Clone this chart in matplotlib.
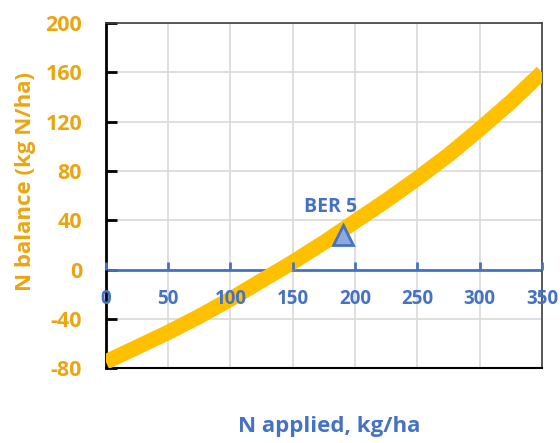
import matplotlib
matplotlib.use("Agg")
import matplotlib.pyplot as plt
import numpy as np

# data
n_applied = [0, 25, 50, 75, 100, 125, 150, 175, 200, 225, 250, 275, 300, 325, 350]
n_balance = [-75, -63, -51, -38, -24, -9, 6, 22, 39, 56, 74, 93, 114, 136, 160]
ber_x = [190]
ber_y = [28]
ber_label = "BER 5"
xticks = [0, 50, 100, 150, 200, 250, 300, 350]
yticks = [-80, -40, 0, 40, 80, 120, 160, 200]

ORANGE_TXT = "#EBA511"
ORANGE = "#FFC000"
BLUE = "#4472C4"
BLUE_FILL = "#8EA9DB"

plt.rcParams['font.family'] = ['Open Sans', 'DejaVu Sans']
plt.rcParams['axes.unicode_minus'] = False

fig = plt.figure(figsize=(5.6, 4.43), dpi=100)
ax = fig.add_axes([0.189, 0.169, 0.779, 0.779])

ax.set_xlim(0, 350)
ax.set_ylim(-80, 200)
ax.set_xticks(xticks)
ax.set_yticks(yticks)
ax.grid(True, color="#D9D9D9", linewidth=1.2, zorder=0)
ax.set_axisbelow(True)

ax.plot(n_applied, n_balance, color=ORANGE, linewidth=11, solid_capstyle='butt', zorder=3)
ax.axhline(0, color=BLUE, linewidth=2, zorder=2)
ax.plot(ber_x, ber_y, marker='^', markersize=15, markerfacecolor=BLUE_FILL,
        markeredgecolor=BLUE, markeredgewidth=2, linestyle='none', zorder=4)
ax.annotate(ber_label, (ber_x[0], ber_y[0]), xytext=(-9, 13), textcoords='offset points',
            ha='center', va='bottom', color=BLUE, fontsize=14, fontweight='bold')

# spines
ax.spines['left'].set_linewidth(2)
ax.spines['left'].set_color('black')
ax.spines['bottom'].set_linewidth(1.5)
ax.spines['bottom'].set_color('black')
for s in ['top', 'right']:
    ax.spines[s].set_linewidth(1.2)
    ax.spines[s].set_color('#404040')

ax.tick_params(axis='y', direction='in', length=8, width=2, color='black',
               labelsize=15.5, labelcolor=ORANGE_TXT, pad=17)
for lab in ax.get_yticklabels():
    lab.set_fontweight('bold')
ax.tick_params(axis='x', bottom=False, labelbottom=False)

# x axis drawn at y = 0
sec = ax.secondary_xaxis(80 / 280)
sec.set_zorder(6)
sec.set_xticks(xticks)
sec.spines['bottom'].set_visible(False)
sec.tick_params(axis='x', direction='in', length=6, width=2, color=BLUE,
                labelsize=13.5, labelcolor=BLUE, pad=14)
for lab in sec.get_xticklabels():
    lab.set_fontweight('bold')

fig.text(0.045, 0.59, "N balance (kg N/ha)", color=ORANGE_TXT, fontsize=16, fontweight='bold',
         rotation=90, ha='center', va='center')
fig.text(0.588, 0.025, "N applied, kg/ha", color=BLUE, fontsize=16, fontweight='bold', ha='center')

fig.savefig("out.png", dpi=100)
